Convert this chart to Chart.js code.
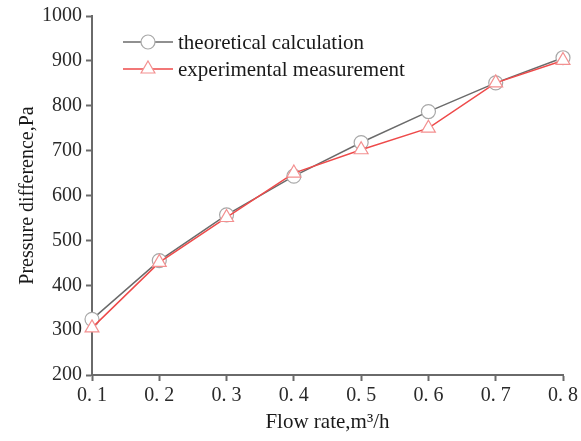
<!DOCTYPE html>
<html>
<head>
<meta charset="utf-8">
<script src="https://cdn.jsdelivr.net/npm/chart.js@4/dist/chart.umd.min.js"></script>
<style>
  html, body { margin: 0; padding: 0; background: #fff; }
  #wrap { width: 581px; height: 441px; }
</style>
</head>
<body>
<div id="wrap"><canvas id="chart" width="581" height="441"></canvas></div>
<script>
// Flow rate categories and the two measured/calculated curves
const flowRates   = ['0. 1', '0. 2', '0. 3', '0. 4', '0. 5', '0. 6', '0. 7', '0. 8'];
const theoretical = [324, 455, 557, 643, 718, 787, 851, 907];
const experiment  = [305, 451, 551, 650, 702, 750, 851, 901];

const AXIS = '#6a6a6a';
const FONT = "'Liberation Serif', 'Times New Roman', serif";

// legend drawn as line + marker samples, top-left of the plot
const lineLegend = {
  id: 'lineLegend',
  afterDraw(chart) {
    const ctx = chart.ctx;
    const x0 = 123, x1 = 173;
    const rows = [42, 69];
    chart.data.datasets.forEach((ds, i) => {
      const y = rows[i];
      ctx.save();
      ctx.strokeStyle = ds.borderColor;
      ctx.lineWidth = ds.borderWidth;
      ctx.beginPath();
      ctx.moveTo(x0, y);
      ctx.lineTo(x1, y);
      ctx.stroke();
      ctx.fillStyle = '#fff';
      ctx.strokeStyle = ds.pointBorderColor;
      ctx.lineWidth = ds.pointBorderWidth;
      Chart.helpers.drawPoint(ctx, { pointStyle: ds.pointStyle, radius: ds.pointRadius, borderWidth: ds.pointBorderWidth }, (x0 + x1) / 2, y);
      ctx.fillStyle = '#1a1a1a';
      ctx.font = '21px ' + FONT;
      ctx.textBaseline = 'middle';
      ctx.fillText(ds.label, 178, y + 1);
      ctx.restore();
    });
  }
};

new Chart(document.getElementById('chart'), {
  type: 'line',
  data: {
    labels: flowRates,
    datasets: [
      {
        label: 'theoretical calculation',
        data: theoretical,
        borderColor: '#6b6b6b',
        borderWidth: 1.5,
        pointStyle: 'circle',
        pointRadius: 7,
        pointBorderColor: '#a8a8a8',
        pointBorderWidth: 1.2,
        pointBackgroundColor: '#fff',
        order: 1,
      },
      {
        label: 'experimental measurement',
        data: experiment,
        borderColor: '#ee4a4a',
        borderWidth: 1.5,
        pointStyle: 'triangle',
        pointRadius: 8,
        pointBorderColor: '#f39090',
        pointBorderWidth: 1.2,
        pointBackgroundColor: '#fff',
        order: 0,
      },
    ],
  },
  options: {
    responsive: false,
    animation: false,
    layout: { padding: { top: 5, right: 17, left: 12, bottom: 2 } },
    plugins: { legend: { display: false }, tooltip: { enabled: false } },
    scales: {
      x: {
        type: 'category',
        offset: false,
        grid: { drawOnChartArea: false, color: AXIS, tickLength: 6, tickWidth: 2 },
        border: { color: AXIS, width: 2 },
        ticks: { color: '#2a2a2a', font: { family: FONT, size: 20 }, padding: 3, maxRotation: 0 },
        title: { display: true, text: 'Flow rate,m³/h', color: '#1a1a1a', font: { family: FONT, size: 21 }, padding: { top: 4 } },
        afterFit(scale) { scale.height = 64; },
      },
      y: {
        min: 200,
        max: 1000,
        ticks: { stepSize: 100, color: '#2a2a2a', font: { family: FONT, size: 20 }, padding: 4, callback: v => String(v) },
        grid: { drawOnChartArea: false, color: AXIS, tickLength: 6, tickWidth: 2 },
        border: { color: AXIS, width: 2 },
        title: { display: true, text: 'Pressure difference,Pa', color: '#1a1a1a', font: { family: FONT, size: 20 }, padding: { bottom: 2 } },
        afterFit(scale) { scale.width = 80; },
      },
    },
  },
  plugins: [lineLegend],
});
</script>
</body>
</html>
